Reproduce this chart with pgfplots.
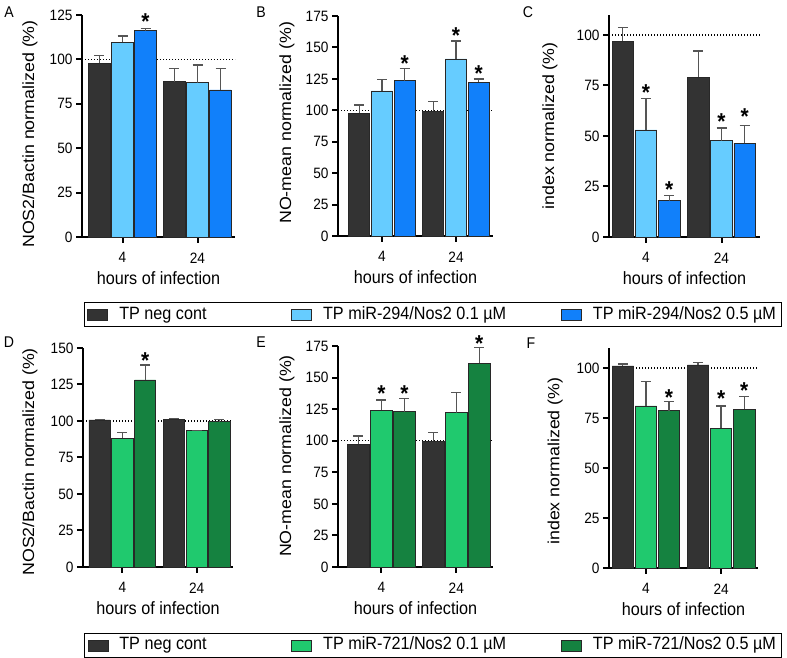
\documentclass[border=0pt]{standalone}
\usepackage{fontspec}
\setmainfont{Liberation Sans}[FakeStretch=0.91]
\newfontfamily\plainsans{Liberation Sans}
\usepackage{graphicx}
\usepackage{pgfplots}
\pgfplotsset{compat=1.18}
\definecolor{cdark}{RGB}{51,51,51}
\definecolor{clblue}{RGB}{102,204,255}
\definecolor{cblue}{RGB}{17,128,250}
\definecolor{clgreen}{RGB}{32,201,110}
\definecolor{cdgreen}{RGB}{21,130,64}
\definecolor{cedge}{RGB}{40,40,40}
\definecolor{cerr}{RGB}{85,85,85}

\newcommand{\ylab}[1]{\scalebox{1}[0.91]{\plainsans\fontsize{17.8}{18}\selectfont #1}}

\pgfplotsset{
  panel/.style={
    scale only axis,
    axis x line*=bottom, axis y line*=left,
    axis line style={line width=2.6pt, black, -},
    xtick={0,1}, xticklabels={4,24},
    tick style={line width=2pt, black},
    major tick length=6pt,
    tick align=outside,
    ymin=0,
    clip=false,
    ticklabel style={font=\fontsize{15}{15}\selectfont},
    xticklabel style={yshift=-6pt},
    /pgf/number format/assume math mode=true,
    xlabel={hours of infection},
    xlabel style={font=\fontsize{17.8}{18}\selectfont, at={(axis description cs:0.5,-0.186)}, anchor=center},
  },
  bars/.style={ybar, bar width=0.285, bar shift=0pt, draw=cedge, line width=0.8pt, fill=#1,
     legend image code/.code={\draw[fill=#1, draw=cedge, line width=0.8pt] (0pt,-5.5pt) rectangle (20pt,5.5pt); \path (31pt,0pt);},
     error bars/y dir=plus, error bars/y explicit,
     error bars/error bar style={line width=1.3pt, color=cerr},
     error bars/error mark options={rotate=90, mark size=5pt, line width=1.3pt, color=cerr}},
  refline/.style={forget plot, black, line width=1.3pt, dash pattern=on 1.4pt off 1.6pt},
  stars/.style={forget plot, only marks, mark=text, text mark={*}, text mark as node=true,
     text mark style={font=\fontsize{23}{23}\selectfont\bfseries, inner sep=0pt, anchor=center, yshift=-5pt}},
  leg/.style={legend columns=3,
     legend style={at={(axis description cs:#1)}, anchor=north west, draw=black, line width=1pt,
       inner xsep=3pt, inner ysep=4pt, font=\fontsize{17.8}{18}\selectfont, column sep=0pt,
       nodes={inner sep=0pt, text height=12.5pt, text depth=3.5pt}, legend cell align=left}},
}

\begin{document}
\begin{tikzpicture}
\useasboundingbox (0pt,0pt) rectangle (787pt,658pt);

% Panel letters
\node[font=\fontsize{15.5}{15.5}\selectfont] at (9pt,646pt) {A};
\node[font=\fontsize{15.5}{15.5}\selectfont] at (261pt,646pt) {B};
\node[font=\fontsize{15.5}{15.5}\selectfont] at (528pt,646pt) {C};
\node[font=\fontsize{15.5}{15.5}\selectfont] at (9pt,316pt) {D};
\node[font=\fontsize{15.5}{15.5}\selectfont] at (261pt,316pt) {E};
\node[font=\fontsize{15.5}{15.5}\selectfont] at (531pt,315pt) {F};

% ---------------- A ----------------
\begin{axis}[panel, at={(82pt,421pt)}, anchor=south west, width=153pt, height=222pt,
  xmin=-0.54, xmax=1.5, ymax=125, ytick={0,25,50,75,100,125},
  ylabel={\ylab{NOS2/Bactin normalized (\%)}},
  ylabel style={at={(axis description cs:-0.34,0.464)}, anchor=center},
  leg={0.013,-0.293}]
\addplot[refline] coordinates {(-0.54,100) (1.5,100)};
\addplot[bars=cdark] coordinates {(-0.307,97.8) +- (0,4.2) (0.693,87.5) +- (0,7.5)};
\addlegendentry{\makebox[172pt][l]{TP neg cont}}
\addplot[bars=clblue] coordinates {(0,109.6) +- (0,3.6) (1,86.9) +- (0,9.9)};
\addlegendentry{\makebox[238pt][l]{TP miR-294/Nos2 0.1 µM}}
\addplot[bars=cblue] coordinates {(0.307,116.2) +- (0,1.3) (1.307,82.8) +- (0,12.2)};
\addlegendentry{\makebox[186pt][l]{TP miR-294/Nos2 0.5 µM}}
\addplot[stars] coordinates {(0.307,124)};
\end{axis}

% ---------------- B ----------------
\begin{axis}[panel, at={(338pt,422pt)}, anchor=south west, width=155pt, height=220pt,
  xmin=-0.595, xmax=1.5, ymax=175, ytick={0,25,50,75,100,125,150,175},
  ylabel={\ylab{NO-mean normalized (\%)}},
  ylabel style={at={(axis description cs:-0.329,0.514)}, anchor=center}]
\addplot[refline] coordinates {(-0.595,100) (1.5,100)};
\addplot[bars=cdark] coordinates {(-0.307,97.6) +- (0,6.6) (0.693,99.4) +- (0,7.5)};
\addplot[bars=clblue] coordinates {(0,115.4) +- (0,9.3) (1,140.8) +- (0,14.3)};
\addplot[bars=cblue] coordinates {(0.307,123.6) +- (0,9.8) (1.307,122.3) +- (0,2.6)};
\addplot[stars] coordinates {(0.307,140.8) (1,163) (1.307,132.8)};
\end{axis}

% ---------------- C ----------------
\begin{axis}[panel, at={(609pt,421pt)}, anchor=south west, width=151pt, height=222pt,
  xmin=-0.49, xmax=1.51, ymax=109.9, ytick={0,25,50,75,100},
  ylabel={\ylab{index normalized (\%)}},
  ylabel style={at={(axis description cs:-0.391,0.5)}, anchor=center}]
\addplot[refline] coordinates {(-0.49,100) (1.51,100)};
\addplot[bars=cdark] coordinates {(-0.307,97) +- (0,6.8) (0.693,79.1) +- (0,13)};
\addplot[bars=clblue] coordinates {(0,53) +- (0,15.7) (1,47.7) +- (0,6.3)};
\addplot[bars=cblue] coordinates {(0.307,18) +- (0,2.6) (1.307,46.4) +- (0,8.9)};
\addplot[stars] coordinates {(0,73.8) (0.307,25.7) (1,59.4) (1.307,61.9)};
\end{axis}

% ---------------- D ----------------
\begin{axis}[panel, at={(83pt,91pt)}, anchor=south west, width=150pt, height=219pt,
  xmin=-0.53, xmax=1.49, ymax=150, ytick={0,25,50,75,100,125,150},
  ylabel={\ylab{NOS2/Bactin normalized (\%)}},
  ylabel style={at={(axis description cs:-0.353,0.48)}, anchor=center},
  leg={0.007,-0.301}]
\addplot[refline] coordinates {(-0.53,100) (1.49,100)};
\addplot[bars=cdark] coordinates {(-0.307,100.7) +- (0,0.5) (0.693,101.2) +- (0,0.6)};
\addlegendentry{\makebox[172pt][l]{TP neg cont}}
\addplot[bars=clgreen] coordinates {(0,88.1) +- (0,3.9) (1,93.4) +- (0,0.3)};
\addlegendentry{\makebox[238pt][l]{TP miR-721/Nos2 0.1 µM}}
\addplot[bars=cdgreen] coordinates {(0.307,128.1) +- (0,10.3) (1.307,99.5) +- (0,1.7)};
\addlegendentry{\makebox[186pt][l]{TP miR-721/Nos2 0.5 µM}}
\addplot[stars] coordinates {(0.307,144.5)};
\end{axis}

% ---------------- E ----------------
\begin{axis}[panel, at={(338pt,91pt)}, anchor=south west, width=155pt, height=221pt,
  xmin=-0.58, xmax=1.49, ymax=175, ytick={0,25,50,75,100,125,150,175},
  ylabel={\ylab{NO-mean normalized (\%)}},
  ylabel style={at={(axis description cs:-0.329,0.502)}, anchor=center}]
\addplot[refline] coordinates {(-0.58,100) (1.49,100)};
\addplot[bars=cdark] coordinates {(-0.307,97.1) +- (0,6.6) (0.693,99.5) +- (0,7.1)};
\addplot[bars=clgreen] coordinates {(0,124.3) +- (0,7.9) (1,122.2) +- (0,16.1)};
\addplot[bars=cdgreen] coordinates {(0.307,123) +- (0,10.3) (1.307,161.3) +- (0,12.7)};
\addplot[stars] coordinates {(0,141) (0.307,141) (1.307,181)};
\end{axis}

% ---------------- F ----------------
\begin{axis}[panel, at={(609pt,90pt)}, anchor=south west, width=149pt, height=220pt,
  xmin=-0.49, xmax=1.49, ymax=110, ytick={0,25,50,75,100},
  ylabel={\ylab{index normalized (\%)}},
  ylabel style={at={(axis description cs:-0.362,0.486)}, anchor=center}]
\addplot[refline] coordinates {(-0.49,100) (1.49,100)};
\addplot[bars=cdark] coordinates {(-0.307,101) +- (0,1) (0.693,101.5) +- (0,1.3)};
\addplot[bars=clgreen] coordinates {(0,81) +- (0,12.2) (1,69.9) +- (0,11.1)};
\addplot[bars=cdgreen] coordinates {(0.307,78.7) +- (0,4.5) (1.307,79.4) +- (0,6.3)};
\addplot[stars] coordinates {(0.307,87.75) (1,87) (1.307,91)};
\end{axis}
\end{tikzpicture}
\end{document}
